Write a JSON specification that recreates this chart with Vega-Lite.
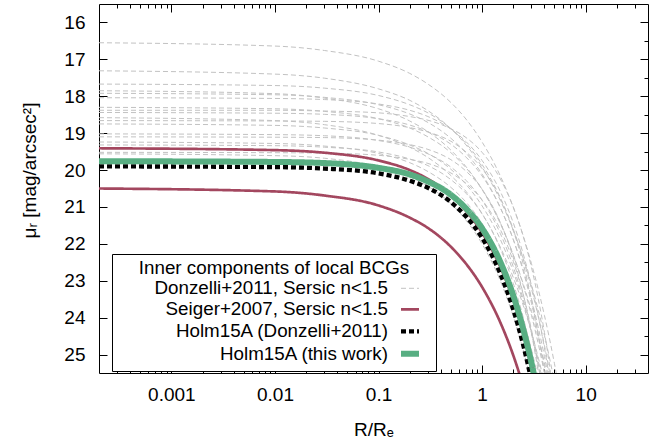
{
  "$schema": "https://vega.github.io/schema/vega-lite/v6.json",
  "width": 549,
  "height": 369,
  "autosize": {"type": "none"},
  "padding": {"left": 99, "top": 4, "right": 1, "bottom": 66},
  "background": "white",
  "datasets": {
    "curves": [
      {"key": "g1", "series": "Donzelli+2011, Sersic n<1.5"},
      {"key": "g2", "series": "Donzelli+2011, Sersic n<1.5"},
      {"key": "g3", "series": "Donzelli+2011, Sersic n<1.5"},
      {"key": "g4", "series": "Donzelli+2011, Sersic n<1.5"},
      {"key": "g5", "series": "Donzelli+2011, Sersic n<1.5"},
      {"key": "g6", "series": "Donzelli+2011, Sersic n<1.5"},
      {"key": "g7", "series": "Donzelli+2011, Sersic n<1.5"},
      {"key": "g8", "series": "Donzelli+2011, Sersic n<1.5"},
      {"key": "g9", "series": "Donzelli+2011, Sersic n<1.5"},
      {"key": "g10", "series": "Donzelli+2011, Sersic n<1.5"},
      {"key": "g11", "series": "Donzelli+2011, Sersic n<1.5"},
      {"key": "g12", "series": "Donzelli+2011, Sersic n<1.5"},
      {"key": "g13", "series": "Donzelli+2011, Sersic n<1.5"},
      {"key": "g14", "series": "Donzelli+2011, Sersic n<1.5"},
      {"key": "g15", "series": "Donzelli+2011, Sersic n<1.5"},
      {"key": "g16", "series": "Donzelli+2011, Sersic n<1.5"},
      {"key": "g17", "series": "Donzelli+2011, Sersic n<1.5"},
      {"key": "g18", "series": "Donzelli+2011, Sersic n<1.5"},
      {"key": "su", "series": "Seiger+2007, Sersic n<1.5"},
      {"key": "sl", "series": "Seiger+2007, Sersic n<1.5"},
      {"key": "dz", "series": "Holm15A (Donzelli+2011)"},
      {"key": "tw", "series": "Holm15A (this work)"}
    ],
    "prof": [
      {"x": 0.0002, "g1": 16.55, "g2": 17.31, "g3": 17.67, "g4": 17.85, "g5": 17.92, "g6": 18.04, "g7": 18.30, "g8": 18.44, "g9": 18.58, "g10": 18.66, "g11": 18.75, "g12": 19.02, "g13": 19.10, "g14": 19.24, "g15": 19.32, "g16": 19.52, "g17": 19.56, "g18": 18.38, "su": 19.41, "sl": 20.50, "dz": 19.90, "tw": 19.76},
      {"x": 0.01, "g1": 16.64, "g2": 17.40, "g3": 17.71, "g4": 17.93, "g5": 17.96, "g6": 18.06, "g7": 18.34, "g8": 18.46, "g9": 18.66, "g10": 18.67, "g11": 18.79, "g12": 19.04, "g13": 19.11, "g14": 19.28, "g15": 19.34, "g16": 19.53, "g17": 19.61, "g18": 18.38, "su": 19.46, "sl": 20.58, "dz": 19.92, "tw": 19.78},
      {"x": 0.03, "g1": 16.76, "g2": 17.51, "g3": 17.78, "g4": 18.05, "g5": 18.03, "g6": 18.09, "g7": 18.41, "g8": 18.49, "g9": 18.77, "g10": 18.68, "g11": 18.86, "g12": 19.07, "g13": 19.12, "g14": 19.35, "g15": 19.38, "g16": 19.54, "g17": 19.68, "g18": 18.40, "su": 19.53, "sl": 20.69, "dz": 19.96, "tw": 19.81},
      {"x": 0.1, "g1": 17.05, "g2": 17.80, "g3": 17.98, "g4": 18.34, "g5": 18.23, "g6": 18.21, "g7": 18.61, "g8": 18.61, "g9": 19.06, "g10": 18.74, "g11": 19.06, "g12": 19.20, "g13": 19.19, "g14": 19.55, "g15": 19.51, "g16": 19.60, "g17": 19.91, "g18": 18.45, "su": 19.74, "sl": 20.96, "dz": 20.09, "tw": 19.94},
      {"x": 0.2, "g1": 17.38, "g2": 18.11, "g3": 18.23, "g4": 18.67, "g5": 18.48, "g6": 18.38, "g7": 18.86, "g8": 18.78, "g9": 19.38, "g10": 18.85, "g11": 19.32, "g12": 19.38, "g13": 19.31, "g14": 19.80, "g15": 19.70, "g16": 19.71, "g17": 20.18, "g18": 18.55, "su": 20.00, "sl": 21.29, "dz": 20.29, "tw": 20.12},
      {"x": 0.3, "g1": 17.67, "g2": 18.39, "g3": 18.45, "g4": 18.96, "g5": 18.71, "g6": 18.55, "g7": 19.10, "g8": 18.96, "g9": 19.66, "g10": 18.97, "g11": 19.55, "g12": 19.56, "g13": 19.44, "g14": 20.04, "g15": 19.88, "g16": 19.82, "g17": 20.44, "g18": 18.65, "su": 20.24, "sl": 21.57, "dz": 20.48, "tw": 20.31},
      {"x": 0.5, "g1": 18.17, "g2": 18.88, "g3": 18.88, "g4": 19.46, "g5": 19.14, "g6": 18.89, "g7": 19.53, "g8": 19.30, "g9": 20.15, "g10": 19.22, "g11": 19.98, "g12": 19.92, "g13": 19.72, "g14": 20.47, "g15": 20.26, "g16": 20.08, "g17": 20.91, "g18": 18.88, "su": 20.69, "sl": 22.08, "dz": 20.87, "tw": 20.67},
      {"x": 0.7, "g1": 18.62, "g2": 19.32, "g3": 19.28, "g4": 19.91, "g5": 19.54, "g6": 19.23, "g7": 19.94, "g8": 19.65, "g9": 20.58, "g10": 19.51, "g11": 20.39, "g12": 20.28, "g13": 20.03, "g14": 20.87, "g15": 20.63, "g16": 20.36, "g17": 21.36, "g18": 19.12, "su": 21.11, "sl": 22.54, "dz": 21.26, "tw": 21.04},
      {"x": 1, "g1": 19.24, "g2": 19.92, "g3": 19.85, "g4": 20.53, "g5": 20.11, "g6": 19.74, "g7": 20.52, "g8": 20.16, "g9": 21.18, "g10": 19.96, "g11": 20.97, "g12": 20.82, "g13": 20.52, "g14": 21.45, "g15": 21.19, "g16": 20.81, "g17": 22.00, "g18": 19.52, "su": 21.70, "sl": 23.17, "dz": 21.84, "tw": 21.58},
      {"x": 1.5, "g1": 20.16, "g2": 20.82, "g3": 20.75, "g4": 21.45, "g5": 21.02, "g6": 20.58, "g7": 21.43, "g8": 21.02, "g9": 22.09, "g10": 20.77, "g11": 21.88, "g12": 21.72, "g13": 21.42, "g14": 22.36, "g15": 22.13, "g16": 21.61, "g17": 23.00, "g18": 20.24, "su": 22.63, "sl": 24.13, "dz": 22.81, "tw": 22.49},
      {"x": 2, "g1": 21.01, "g2": 21.63, "g3": 21.60, "g4": 22.30, "g5": 21.88, "g6": 21.43, "g7": 22.30, "g8": 21.88, "g9": 22.91, "g10": 21.64, "g11": 22.75, "g12": 22.62, "g13": 22.37, "g14": 23.23, "g15": 23.07, "g16": 22.47, "g17": 23.96, "g18": 21.00, "su": 23.51, "sl": 25.02, "dz": 23.78, "tw": 23.40},
      {"x": 2.5, "g1": 21.79, "g2": 22.40, "g3": 22.42, "g4": 23.09, "g5": 22.70, "g6": 22.28, "g7": 23.13, "g8": 22.75, "g9": 23.67, "g10": 22.55, "g11": 23.59, "g12": 23.52, "g13": 23.37, "g14": 24.06, "g15": 24.00, "g16": 23.38, "g17": 24.88, "g18": 21.80, "su": 24.36, "sl": 25.86, "dz": 24.75, "tw": 24.32},
      {"x": 3, "g1": 22.54, "g2": 23.12, "g3": 23.22, "g4": 23.83, "g5": 23.50, "g6": 23.13, "g7": 23.94, "g8": 23.61, "g9": 24.40, "g10": 23.50, "g11": 24.40, "g12": 24.42, "g13": 24.42, "g14": 24.87, "g15": 24.94, "g16": 24.33, "g17": 25.77, "g18": 22.64, "su": 25.18, "dz": 25.71, "tw": 25.23},
      {"x": 3.5, "g1": 23.25, "g2": 23.81, "g3": 23.99, "g4": 24.55, "g5": 24.29, "g6": 23.97, "g7": 24.73, "g8": 24.47, "g9": 25.10, "g10": 24.49, "g11": 25.19, "g12": 25.32, "g13": 25.50, "g14": 25.66, "g15": 25.88, "g16": 25.30, "g18": 23.51, "su": 25.98, "tw": 26.14},
      {"x": 4, "g1": 23.94, "g2": 24.48, "g3": 24.75, "g4": 25.23, "g5": 25.05, "g6": 24.82, "g7": 25.50, "g8": 25.33, "g9": 25.76, "g10": 25.50, "g11": 25.96, "g12": 26.22, "g13": 26.61, "g16": 26.31, "g18": 24.40},
      {"x": 4.5, "g1": 24.60, "g2": 25.12, "g3": 25.50, "g4": 25.90, "g5": 25.80, "g6": 25.67, "g7": 26.26, "g8": 26.19, "g10": 26.54, "g18": 25.32},
      {"x": 5, "g1": 25.25, "g2": 25.75, "g3": 26.23, "g18": 26.25},
      {"x": 5.5, "g1": 25.87}
    ]
  },
  "data": {"name": "prof"},
  "transform": [
    {"fold": ["g1", "g2", "g3", "g4", "g5", "g6", "g7", "g8", "g9", "g10", "g11", "g12", "g13", "g14", "g15", "g16", "g17", "g18", "su", "sl", "dz", "tw"], "as": ["key", "mu"]},
    {"filter": "isValid(datum.mu)"},
    {"lookup": "key", "from": {"data": {"name": "curves"}, "key": "key", "fields": ["series"]}}
  ],
  "resolve": {"axis": {"x": "independent", "y": "independent"}},
  "layer": [
    {
      "mark": {"type": "line", "interpolate": "monotone", "clip": true, "strokeCap": "butt"},
      "encoding": {
        "x": {
          "field": "x", "type": "quantitative",
          "scale": {"type": "log", "domain": [0.0002, 40], "nice": false},
          "axis": {
            "orient": "bottom",
            "values": [0.0003, 0.0004, 0.0005, 0.0006, 0.0007, 0.0008, 0.0009, 0.001, 0.002, 0.003, 0.004, 0.005, 0.006, 0.007, 0.008, 0.009, 0.01, 0.02, 0.03, 0.04, 0.05, 0.06, 0.07, 0.08, 0.09, 0.1, 0.2, 0.3, 0.4, 0.5, 0.6, 0.7, 0.8, 0.9, 1, 2, 3, 4, 5, 6, 7, 8, 9, 10, 20, 30],
            "format": "~g",
            "tickSize": {"condition": {"test": "indexof([0.001,0.01,0.1,1,10], datum.value) >= 0", "value": -8}, "value": -4},
            "labelExpr": "indexof([0.001,0.01,0.1,1,10], datum.value) >= 0 ? datum.label : ''",
            "labelPadding": 20,
            "title": "R/Rₑ",
            "titleBaseline": "alphabetic",
            "titleAnchor": "middle",
            "titleY": 62
          }
        },
        "y": {
          "field": "mu", "type": "quantitative",
          "scale": {"domain": [15.5, 25.5], "reverse": true, "zero": false, "nice": false},
          "axis": {
            "orient": "left",
            "values": [16, 16.5, 17, 17.5, 18, 18.5, 19, 19.5, 20, 20.5, 21, 21.5, 22, 22.5, 23, 23.5, 24, 24.5, 25],
            "format": "d",
            "tickSize": {"condition": {"test": "datum.value % 1 === 0", "value": -8}, "value": -4},
            "labelExpr": "datum.value % 1 === 0 ? datum.label : ''",
            "labelPadding": 22,
            "title": "μᵣ [mag/arcsec²]",
            "titleAngle": -90,
            "titleAlign": "center",
            "titleBaseline": "middle",
            "titleX": -70,
            "titleY": 166
          }
        },
        "color": {
          "field": "series", "type": "nominal",
          "scale": {"domain": ["Donzelli+2011, Sersic n<1.5", "Seiger+2007, Sersic n<1.5", "Holm15A (Donzelli+2011)", "Holm15A (this work)"], "range": ["#c2c2c2", "#a3475f", "#000000", "#58ae82"]},
          "legend": {"title": "Inner components of local BCGs", "orient": "none", "legendX": 13, "legendY": 250}
        },
        "strokeDash": {
          "field": "series", "type": "nominal",
          "scale": {"domain": ["Donzelli+2011, Sersic n<1.5", "Seiger+2007, Sersic n<1.5", "Holm15A (Donzelli+2011)", "Holm15A (this work)"], "range": [[5, 3], [1, 0], [5, 3], [1, 0]]},
          "legend": {"title": "Inner components of local BCGs", "orient": "none", "legendX": 13, "legendY": 250}
        },
        "strokeWidth": {
          "field": "series", "type": "nominal",
          "scale": {"domain": ["Donzelli+2011, Sersic n<1.5", "Seiger+2007, Sersic n<1.5", "Holm15A (Donzelli+2011)", "Holm15A (this work)"], "range": [1.0, 6.0]},
          "legend": {"title": "Inner components of local BCGs", "orient": "none", "legendX": 13, "legendY": 250}
        },
        "detail": {"field": "key", "type": "nominal"}
      }
    },
    {
      "mark": {"type": "point", "opacity": 0},
      "encoding": {
        "x": {
          "field": "x", "type": "quantitative",
          "axis": {
            "orient": "top",
            "values": [0.0003, 0.0004, 0.0005, 0.0006, 0.0007, 0.0008, 0.0009, 0.001, 0.002, 0.003, 0.004, 0.005, 0.006, 0.007, 0.008, 0.009, 0.01, 0.02, 0.03, 0.04, 0.05, 0.06, 0.07, 0.08, 0.09, 0.1, 0.2, 0.3, 0.4, 0.5, 0.6, 0.7, 0.8, 0.9, 1, 2, 3, 4, 5, 6, 7, 8, 9, 10, 20, 30],
            "tickSize": {"condition": {"test": "indexof([0.001,0.01,0.1,1,10], datum.value) >= 0", "value": -8}, "value": -4},
            "labels": false,
            "title": null
          }
        },
        "y": {
          "field": "mu", "type": "quantitative",
          "axis": {
            "orient": "right",
            "values": [16, 16.5, 17, 17.5, 18, 18.5, 19, 19.5, 20, 20.5, 21, 21.5, 22, 22.5, 23, 23.5, 24, 24.5, 25],
            "tickSize": {"condition": {"test": "datum.value % 1 === 0", "value": -8}, "value": -4},
            "labels": false,
            "title": null
          }
        }
      }
    }
  ],
  "config": {
    "view": {"stroke": null},
    "font": "Liberation Sans",
    "axis": {
      "labelFont": "Liberation Sans", "labelFontSize": 19, "labelColor": "black",
      "titleFont": "Liberation Sans", "titleFontSize": 19, "titleFontWeight": "normal", "titleColor": "black",
      "domainColor": "black", "domainWidth": 1, "tickColor": "black", "tickWidth": 1,
      "grid": false, "labelOverlap": false, "labelFlush": false, "labelBound": false
    },
    "legend": {
      "direction": "vertical",
      "fillColor": "white", "strokeColor": "black", "padding": 5,
      "titleFont": "Liberation Sans", "titleFontSize": 18.8, "titleFontWeight": "normal", "titleColor": "black",
      "titleAnchor": "middle", "titlePadding": 1, "titleLimit": 400,
      "labelFont": "Liberation Sans", "labelFontSize": 18.8, "labelColor": "black", "labelLimit": 400,
      "labelAlign": "right", "labelOffset": -34,
      "symbolType": "stroke", "symbolSize": 324, "symbolOffset": 281,
      "rowPadding": -1.5
    }
  }
}
